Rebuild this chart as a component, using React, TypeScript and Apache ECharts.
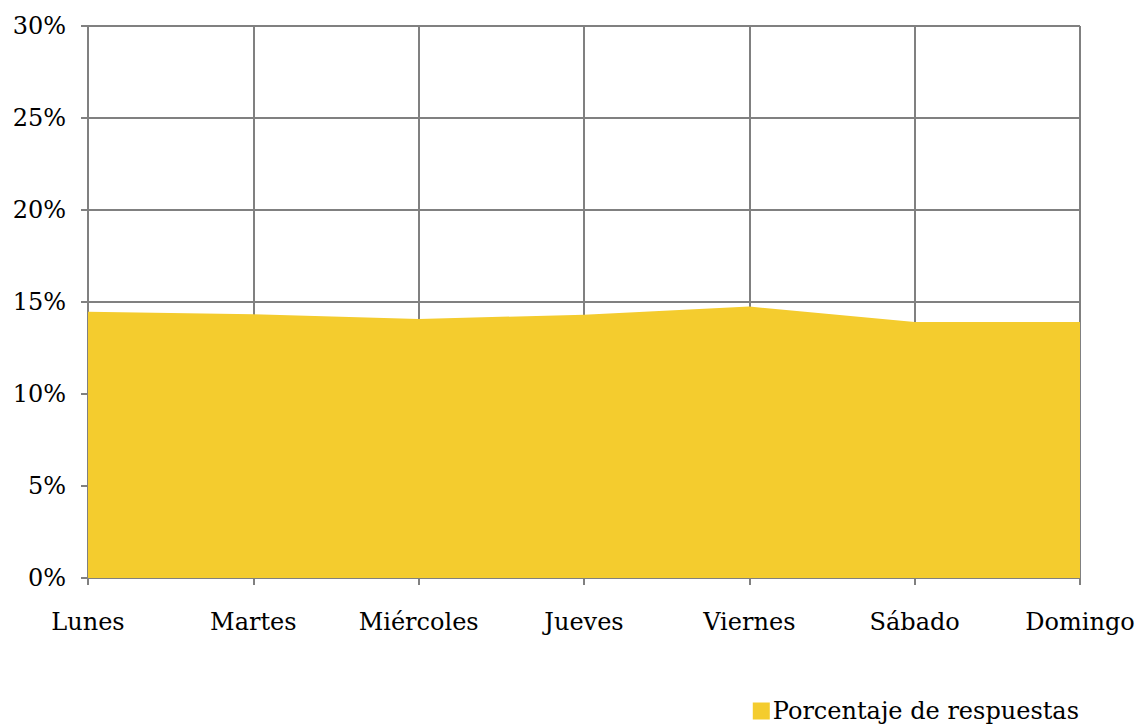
import React, { useEffect, useRef } from "react";
import * as echarts from "echarts";

const categories = ["Lunes", "Martes", "Miércoles", "Jueves", "Viernes", "Sábado", "Domingo"];
const values = [14.47, 14.33, 14.08, 14.31, 14.75, 13.91, 13.91];
const seriesName = "Porcentaje de respuestas";

export default function App() {
  const ref = useRef<HTMLDivElement>(null);
  useEffect(() => {
    const chart = echarts.init(ref.current!, null, { renderer: "svg" });
    const font = "DejaVu Serif";
    chart.setOption({
      animation: false,
      textStyle: { fontFamily: font },
      grid: { left: 88, right: 59, top: 26, bottom: 146, containLabel: false },
      legend: {
        data: [seriesName],
        right: 55,
        bottom: -4,
        icon: "rect",
        itemWidth: 17,
        itemHeight: 17,
        itemGap: 4,
        textStyle: { fontFamily: font, fontSize: 24, color: "#000", padding: [0, 0, 0, -2] },
      },
      xAxis: {
        type: "category",
        data: categories,
        boundaryGap: false,
        axisLine: { lineStyle: { color: "#808080", width: 2 } },
        axisTick: { show: true, length: 7, lineStyle: { color: "#808080", width: 2 } },
        axisLabel: { fontFamily: font, fontSize: 24, color: "#000", margin: 32 },
        splitLine: { show: true, lineStyle: { color: "#808080", width: 2 } },
      },
      yAxis: {
        type: "value",
        min: 0,
        max: 30,
        interval: 5,
        axisLine: { show: true, lineStyle: { color: "#808080", width: 2 } },
        axisTick: { show: true, length: 7, lineStyle: { color: "#808080", width: 2 } },
        axisLabel: { fontFamily: font, fontSize: 24, color: "#000", margin: 22, formatter: "{value}%" },
        splitLine: { show: true, lineStyle: { color: "#808080", width: 2 } },
      },
      series: [
        {
          name: seriesName,
          type: "line",
          data: values,
          symbol: "none",
          lineStyle: { width: 0 },
          itemStyle: { color: "#F4CC2E" },
          areaStyle: { color: "#F4CC2E", opacity: 1 },
          z: 3,
        },
      ],
    });
    return () => chart.dispose();
  }, []);
  return <div ref={ref} style={{ width: 1139, height: 724, position: "absolute", left: 0, top: 0 }} />;
}
